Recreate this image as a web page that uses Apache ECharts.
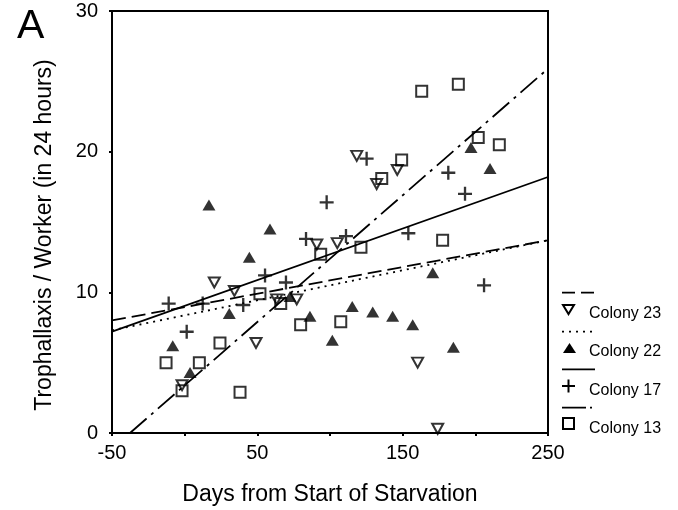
<!DOCTYPE html>
<html><head><meta charset="utf-8">
<script src="https://cdn.jsdelivr.net/npm/echarts@6/dist/echarts.min.js"></script>
<style>html,body{margin:0;padding:0;background:#fff}#c{width:678px;height:510px}</style>
</head><body><div id="c"></div>
<script>
const FONT = '"Liberation Sans", Arial, sans-serif';
const xTickLabels = [-50, 50, 150, 250];
const yTickLabels = [0, 10, 20, 30];
const xTitle = 'Days from Start of Starvation';
const yTitle = 'Trophallaxis / Worker (in 24 hours)';
const panelLabel = 'A';
const legendNames = ['Colony 23', 'Colony 22', 'Colony 17', 'Colony 13'];

// Colony 13 (open squares)
const c13X = [-12.8, -1.8, 10.1, 24.3, 38.1, 51.8, 66.1, 79.8, 93.6, 107.4, 121.3, 135.6, 149.3, 163.1, 177.5, 188.3, 202.0, 216.5];
const c13Y = [5.0, 3.0, 5.0, 6.4, 2.9, 9.9, 9.2, 7.7, 12.7, 7.9, 13.2, 18.1, 19.4, 24.3, 13.7, 24.8, 21.0, 20.5];
// Colony 17 (plus)
const c17X = [-11.0, 1.4, 12.4, 40.3, 55.3, 69.7, 83.5, 97.7, 111.0, 125.2, 153.9, 181.4, 192.9, 206.0];
const c17Y = [9.2, 7.2, 9.2, 9.1, 11.2, 10.7, 13.8, 16.4, 14.0, 19.5, 14.2, 18.5, 17.0, 10.5];
// Colony 22 (filled triangles)
const c22X = [-8.2, 3.7, 16.7, 30.7, 44.5, 58.7, 72.5, 86.2, 101.6, 115.3, 129.4, 143.1, 156.9, 170.7, 184.9, 197.0, 210.1];
const c22Y = [6.2, 4.3, 16.2, 8.5, 12.5, 14.5, 9.7, 8.3, 6.6, 9.0, 8.6, 8.3, 7.7, 11.4, 6.1, 20.3, 18.8];
// Colony 23 (open down triangles)
const c23X = [-1.8, 20.4, 34.2, 49.1, 63.3, 77.1, 90.9, 105.0, 118.4, 132.1, 146.3, 160.3, 174.1];
const c23Y = [3.4, 10.7, 10.1, 6.4, 9.5, 9.5, 13.4, 13.5, 19.7, 17.7, 18.7, 5.0, 0.3];

// regression lines (endpoints)
const fit23X = [-50, 250], fit23Y = [8.0, 13.7];
const fit22X = [-50, 250], fit22Y = [7.3, 13.7];
const fit17X = [-50, 250], fit17Y = [7.2, 18.2];
const fit13X = [-37.6, 250], fit13Y = [0, 25.9];

const zip = (xs, ys) => xs.map((x, i) => [x, ys[i]]);
const PLUS = 'path://M5,0h2v5h5v2h-5v5h-2v-5h-5v-2h5z';
const hollow = {color: 'rgba(0,0,0,0)', borderColor: '#000', borderWidth: 2};

const chart = echarts.init(document.getElementById('c'), null, {renderer: 'canvas'});
const axisCommon = {
  axisLine: {show: true, onZero: false, lineStyle: {color: '#000', width: 2}},
  axisTick: {show: true, length: 3, lineStyle: {color: '#000', width: 2}},
  splitLine: {show: false}
};
function fitLine(xs, ys, dash) {
  return {type: 'line', data: zip(xs, ys), symbol: 'none', silent: true, z: 1,
    lineStyle: {color: '#000', width: 1.8, type: dash}};
}
const T = {fontFamily: FONT, fill: '#000'};
chart.setOption({
  animation: false,
  backgroundColor: '#fff',
  grid: {left: 112, top: 11, width: 436, height: 422, show: true, borderColor: '#000', borderWidth: 2},
  xAxis: Object.assign({type: 'value', min: -50, max: 250, interval: 50,
    axisLabel: {color: '#000', fontSize: 20, fontFamily: FONT, margin: 10,
      formatter: v => xTickLabels.includes(v) ? String(v) : ''}}, axisCommon),
  yAxis: Object.assign({type: 'value', min: 0, max: 30, interval: 10,
    axisLabel: {color: '#000', fontSize: 20, fontFamily: FONT, margin: 14,
      formatter: v => yTickLabels.includes(v) ? String(v) : ''}}, axisCommon),
  series: [
    fitLine(fit23X, fit23Y, [14, 6]),
    fitLine(fit22X, fit22Y, [2, 5]),
    fitLine(fit17X, fit17Y, 'solid'),
    fitLine(fit13X, fit13Y, [22, 6, 3, 6]),
    {type: 'scatter', name: legendNames[0], data: zip(c23X, c23Y), symbol: 'triangle', symbolRotate: 180,
      symbolSize: [11, 10], itemStyle: hollow, z: 3},
    {type: 'scatter', name: legendNames[1], data: zip(c22X, c22Y), symbol: 'triangle',
      symbolSize: [13, 11], itemStyle: {color: '#000'}, z: 3},
    {type: 'scatter', name: legendNames[2], data: zip(c17X, c17Y), symbol: PLUS,
      symbolSize: 14, itemStyle: {color: '#000'}, z: 3},
    {type: 'scatter', name: legendNames[3], data: zip(c13X, c13Y), symbol: 'rect',
      symbolSize: 11, itemStyle: hollow, z: 3}
  ],
  graphic: [
    {type: 'text', left: 17, top: 6, style: Object.assign({text: panelLabel, fontSize: 41}, T)},
    {type: 'text', x: 45, y: 235, rotation: Math.PI / 2,
      style: Object.assign({text: yTitle, fontSize: 23, align: 'center', verticalAlign: 'middle'}, T)},
    {type: 'text', x: 330, y: 495,
      style: Object.assign({text: xTitle, fontSize: 23, align: 'center', verticalAlign: 'middle'}, T)},
    // legend
    {type: 'line', shape: {x1: 562, y1: 292.7, x2: 595, y2: 292.7}, style: {stroke: '#000', lineWidth: 1.8, lineDash: [13, 6]}},
    {type: 'polygon', shape: {points: [[563, 305], [574, 305], [568.5, 314]]}, style: {fill: 'none', stroke: '#000', lineWidth: 2}},
    {type: 'text', x: 589, y: 313.5, style: Object.assign({text: legendNames[0], fontSize: 16, verticalAlign: 'middle'}, T)},
    {type: 'line', shape: {x1: 562, y1: 331.7, x2: 595, y2: 331.7}, style: {stroke: '#000', lineWidth: 1.8, lineDash: [2, 5]}},
    {type: 'polygon', shape: {points: [[563, 353], [576, 353], [569.5, 343]]}, style: {fill: '#000'}},
    {type: 'text', x: 589, y: 352, style: Object.assign({text: legendNames[1], fontSize: 16, verticalAlign: 'middle'}, T)},
    {type: 'line', shape: {x1: 562, y1: 369.3, x2: 595, y2: 369.3}, style: {stroke: '#000', lineWidth: 1.8}},
    {type: 'line', shape: {x1: 562, y1: 386, x2: 575, y2: 386}, style: {stroke: '#000', lineWidth: 2}},
    {type: 'line', shape: {x1: 568.5, y1: 379.5, x2: 568.5, y2: 392.5}, style: {stroke: '#000', lineWidth: 2}},
    {type: 'text', x: 589, y: 390.5, style: Object.assign({text: legendNames[2], fontSize: 16, verticalAlign: 'middle'}, T)},
    {type: 'line', shape: {x1: 562, y1: 407.7, x2: 595, y2: 407.7}, style: {stroke: '#000', lineWidth: 1.8, lineDash: [24, 4, 2, 4]}},
    {type: 'rect', shape: {x: 563, y: 418, width: 11, height: 11}, style: {fill: 'none', stroke: '#000', lineWidth: 2}},
    {type: 'text', x: 589, y: 429, style: Object.assign({text: legendNames[3], fontSize: 16, verticalAlign: 'middle'}, T)}
  ]
});
</script></body></html>
